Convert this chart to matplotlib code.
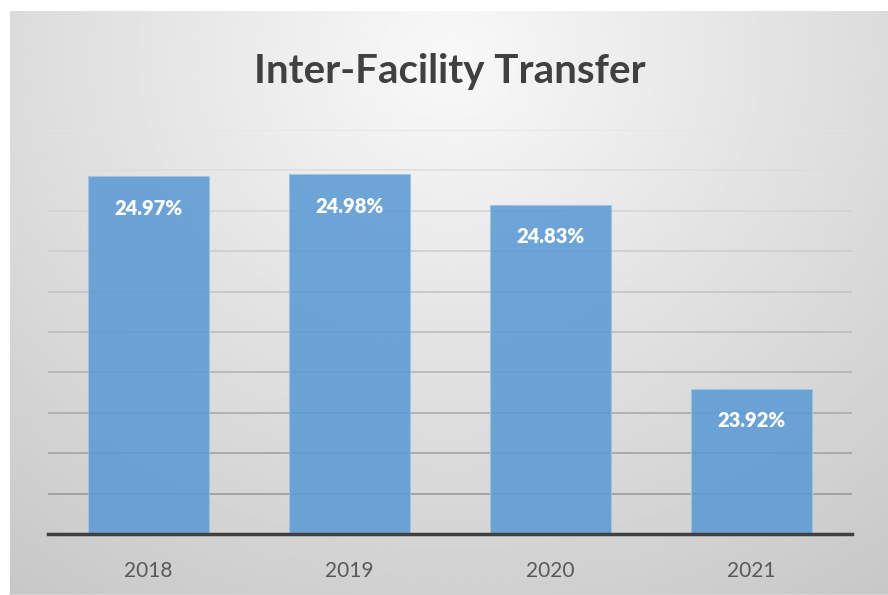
import numpy as np
import matplotlib.pyplot as plt

years = ["2018", "2019", "2020", "2021"]
rates = [24.97, 24.98, 24.83, 23.92]
labels = ["24.97%", "24.98%", "24.83%", "23.92%"]

W, H = 888, 595
fig = plt.figure(figsize=(W / 100, H / 100), dpi=100)
fig.patch.set_facecolor("white")

# radial gray background of the chart box
bg = fig.add_axes([10 / W, 0, (W - 10) / W, (H - 11) / H], zorder=0)
yy, xx = np.mgrid[0:1:300j, 0:1:400j]
r = np.sqrt(((xx - 0.5) / 0.75) ** 2 + ((yy - 0.08) / 1.0) ** 2)
shade = np.clip(0.975 - 0.17 * r, 0.78, 0.975)
bg.imshow(shade, cmap="gray", vmin=0, vmax=1, aspect="auto", extent=[0, 1, 1, 0])
bg.set_axis_off()
bg.plot([0, 1], [0.0, 0.0], color="#d4d4d4", lw=2, transform=bg.transAxes, clip_on=False)

ax = fig.add_axes([48 / W, (H - 534) / H, (852 - 48) / W, (534 - 130) / H], zorder=1)
ax.patch.set_alpha(0)

ymin, ymax = 23.2, 25.2
grid_vals = np.arange(ymin + 0.2, ymax + 0.01, 0.2)
for g in grid_vals:
    t = (g - ymin) / (ymax - ymin)
    shade_g = 0.55 + 0.35 * t
    ax.axhline(g, color=str(shade_g), linewidth=1.1, zorder=1)

x = np.arange(len(years))
ax.bar(x, rates, width=0.6, color="#5b9bd5", alpha=0.88, edgecolor="#9dc3e6",
       linewidth=0.8, zorder=3)
ax.set_xlim(-0.5, 3.5)
ax.set_ylim(ymin, ymax)
ax.tick_params(axis="y", left=False, labelleft=False)
ax.tick_params(axis="x", bottom=False, labelsize=15, labelcolor="#595959", pad=16)
ax.set_xticks(x, years, fontfamily="Lato")
for s in ["top", "right", "left"]:
    ax.spines[s].set_visible(False)
ax.spines["bottom"].set_color("#404040")
ax.spines["bottom"].set_linewidth(2.5)
ax.spines["bottom"].set_zorder(4)

for xi, v, lab in zip(x, rates, labels):
    ax.annotate(lab, (xi, v), xytext=(0, -32), textcoords="offset pixels",
                ha="center", va="center", color="white", fontsize=14.5,
                fontweight="heavy", fontfamily="Lato", zorder=5)

fig.text(0.506, (H - 71) / H, "Inter-Facility Transfer", ha="center", va="center",
         fontsize=29, fontweight="bold", color="#404040", fontfamily="Lato")

fig.savefig("out.png", dpi=100)
